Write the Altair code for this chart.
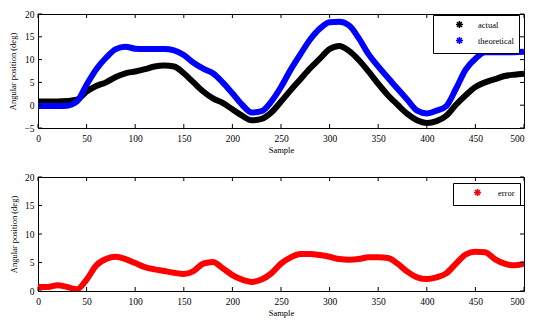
import altair as alt
import pandas as pd

samples = list(range(0, 501, 10))
actual = [0.8, 0.8, 0.8, 0.9, 1.2, 3.0, 4.2, 5.0, 6.2, 7.0, 7.4, 7.9, 8.5, 8.7, 8.5, 7.0, 5.0, 3.0, 1.5, 0.5,
          -0.9, -2.3, -3.3, -3.0, -1.6, 0.8, 3.3, 5.7, 8.1, 10.2, 12.3, 13.0, 11.9, 9.9, 7.4, 4.7, 2.2, 0.1, -1.9, -3.3,
          -3.9, -3.5, -2.3, 0.1, 2.2, 4.0, 5.0, 5.7, 6.4, 6.7, 6.9]
theoretical = [-0.2, -0.2, -0.2, -0.1, 0.8, 4.5, 7.9, 10.4, 12.3, 12.8, 12.4, 12.3, 12.3, 12.3, 12.0, 11.0, 9.3, 8.0, 7.0, 5.0,
               2.6, 0.1, -1.6, -1.3, 0.8, 4.0, 7.8, 11.2, 14.4, 16.8, 18.2, 18.3, 17.5, 14.7, 11.2, 8.5, 6.0, 3.6, 1.2, -1.2,
               -1.8, -1.2, -0.2, 3.6, 7.8, 10.2, 11.6, 11.6, 11.6, 11.6, 11.7]
error = [0.7, 0.7, 1.0, 0.7, 0.3, 2.0, 4.5, 5.6, 6.0, 5.6, 4.9, 4.2, 3.8, 3.5, 3.2, 3.0, 3.5, 4.8, 5.1, 4.0,
         2.8, 2.0, 1.6, 2.0, 3.1, 4.8, 5.9, 6.5, 6.5, 6.3, 6.0, 5.6, 5.5, 5.6, 5.9, 5.9, 5.8, 4.8, 3.4, 2.4,
         2.1, 2.4, 3.1, 4.8, 6.4, 6.9, 6.8, 5.6, 4.8, 4.5, 4.8]

x_ticks = list(range(0, 501, 50))
y_ticks_top = [-5, 0, 5, 10, 15, 20]
y_ticks_bottom = [0, 5, 10, 15, 20]

FONT = "Liberation Serif"
W = 486
H1 = 114
H2 = 114
TICK = 4
STAR = "M-1,0L1,0M0,-1L0,1M-0.7,-0.7L0.7,0.7M-0.7,0.7L0.7,-0.7"

top_df = pd.DataFrame({
    "Sample": samples * 2,
    "value": actual + theoretical,
    "series": ["actual"] * len(samples) + ["theoretical"] * len(samples),
})
bot_df = pd.DataFrame({"Sample": samples, "value": error, "series": ["error"] * len(samples)})


def panel(df, domain, colors, yticks, h, lx, ly, sym_off, lab_off):
    xs = alt.Scale(domain=[0, 500], nice=False, zero=False)
    ys = alt.Scale(domain=[yticks[0], yticks[-1]], nice=False, zero=False)
    x = alt.X("Sample:Q", scale=xs,
              axis=alt.Axis(values=x_ticks, title="Sample", ticks=False, grid=False, domain=False,
                            labelPadding=5, titlePadding=3, labelFont=FONT, labelFontSize=9.5,
                            labelAlign=alt.condition("datum.value == 500", alt.value("right"), alt.value("center")),
                            titleFont=FONT, titleFontSize=8.5, titleFontWeight="normal",
                            labelColor="black", titleColor="black"))
    y = alt.Y("value:Q", scale=ys,
              axis=alt.Axis(values=yticks, title="Angular position (deg)", ticks=False, grid=False,
                            domain=False, labelPadding=4, titlePadding=6, labelFont=FONT,
                            labelFontSize=9.5, titleFont=FONT, titleFontSize=8.5,
                            titleFontWeight="normal", labelColor="black", titleColor="black"))
    color = alt.Color("series:N", scale=alt.Scale(domain=domain, range=colors),
                      legend=alt.Legend(title=None, orient="none", legendX=lx, legendY=ly,
                                        symbolType=STAR, symbolStrokeWidth=1.5, symbolSize=50,
                                        strokeColor="black", fillColor="white", padding=5,
                                        rowPadding=1, symbolOffset=sym_off, labelOffset=lab_off,
                                        labelFont=FONT, labelFontSize=8.5, labelColor="black"))
    line = alt.Chart(df).mark_line(strokeWidth=6, interpolate="monotone", clip=True).encode(
        x=x, y=y, color=color)

    xt = pd.DataFrame({"Sample": x_ticks})
    yt = pd.DataFrame({"value": yticks})
    bt = alt.Chart(xt).mark_rule(color="black", strokeWidth=1).encode(x=x, y=alt.value(h), y2=alt.value(h - TICK))
    tt = alt.Chart(xt).mark_rule(color="black", strokeWidth=1).encode(x=x, y=alt.value(0), y2=alt.value(TICK))
    lt = alt.Chart(yt).mark_rule(color="black", strokeWidth=1).encode(y=y, x=alt.value(0), x2=alt.value(TICK))
    rt = alt.Chart(yt).mark_rule(color="black", strokeWidth=1).encode(y=y, x=alt.value(W - TICK), x2=alt.value(W))
    return alt.layer(line, bt, tt, lt, rt).properties(width=W, height=h)


top = panel(top_df, ["actual", "theoretical"], ["#000000", "#0000ff"], y_ticks_top, H1, 395, 1, 17, 14)
bottom = panel(bot_df, ["error"], ["#ff0000"], y_ticks_bottom, H2, 415, 6, 15, 16)

chart = alt.vconcat(top, bottom, spacing=16).resolve_scale(color="independent").resolve_legend(
    color="independent").properties(padding=0, background="white").configure_view(
    stroke="black", strokeWidth=1)

chart.save("out.html", embed_options={"renderer": "svg", "actions": False})
